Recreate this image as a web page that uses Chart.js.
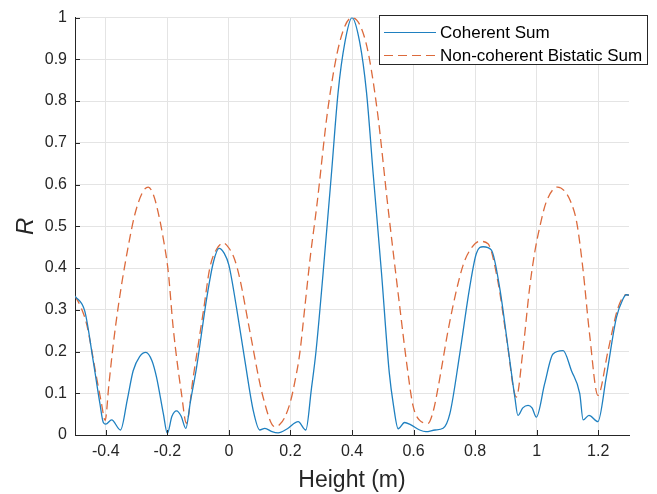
<!DOCTYPE html>
<html>
<head>
<meta charset="utf-8">
<script src="https://cdn.jsdelivr.net/npm/chart.js@4.4.1/dist/chart.umd.min.js"></script>
<style>
  html, body { margin: 0; padding: 0; background: #ffffff; }
  #wrap { width: 657px; height: 494px; position: relative; }
</style>
</head>
<body>
<div id="wrap"><canvas id="c" width="657" height="494"></canvas></div>
<script>
// ---- data ----
const seriesNames = ["Coherent Sum", "Non-coherent Bistatic Sum"];

const heightCoherent = [
  -0.5, -0.468, -0.441, -0.419, -0.408, -0.4, -0.381, -0.352, -0.33, -0.311,
  -0.29, -0.27, -0.25, -0.235, -0.213, -0.2, -0.185, -0.17, -0.155, -0.14,
  -0.125, -0.105, -0.072, -0.05, -0.032, -0.015, 0.0, 0.025, 0.052, 0.079,
  0.1, 0.117, 0.14, 0.16, 0.19, 0.225, 0.25, 0.268, 0.283, 0.306,
  0.333, 0.355, 0.377, 0.4, 0.425, 0.447, 0.469, 0.496, 0.521, 0.535,
  0.55, 0.571, 0.59, 0.62, 0.64, 0.67, 0.696, 0.718, 0.75, 0.782,
  0.804, 0.826, 0.853, 0.88, 0.907, 0.929, 0.939, 0.955, 0.972, 0.985,
  0.999, 1.026, 1.053, 1.086, 1.113, 1.14, 1.151, 1.17, 1.199, 1.226,
  1.259, 1.28, 1.291, 1.3
];
const rCoherent = [
  0.333, 0.296, 0.178, 0.075, 0.030, 0.026, 0.036, 0.012, 0.085, 0.154,
  0.188, 0.198, 0.178, 0.138, 0.051, 0.004, 0.045, 0.058, 0.045, 0.016,
  0.080, 0.162, 0.328, 0.415, 0.447, 0.435, 0.407, 0.304, 0.178, 0.059,
  0.012, 0.016, 0.008, 0.005, 0.015, 0.032, 0.012, 0.110, 0.200, 0.387,
  0.624, 0.822, 0.941, 1.000, 0.941, 0.822, 0.624, 0.387, 0.150, 0.070,
  0.015, 0.030, 0.025, 0.012, 0.008, 0.012, 0.016, 0.051, 0.194, 0.352,
  0.435, 0.451, 0.443, 0.352, 0.209, 0.091, 0.047, 0.065, 0.071, 0.065,
  0.043, 0.123, 0.194, 0.202, 0.154, 0.099, 0.036, 0.047, 0.032, 0.138,
  0.281, 0.325, 0.336, 0.335
];

const heightNoncoherent = [
  -0.5, -0.48, -0.462, -0.43, -0.415, -0.402, -0.39, -0.376, -0.355, -0.33,
  -0.305, -0.28, -0.262, -0.245, -0.23, -0.213, -0.197, -0.181, -0.154, -0.138,
  -0.116, -0.083, -0.062, -0.04, -0.018, 0.0, 0.019, 0.036, 0.068, 0.111,
  0.149, 0.165, 0.18, 0.2, 0.215, 0.23, 0.247, 0.265, 0.285, 0.322,
  0.36, 0.4, 0.445, 0.481, 0.517, 0.555, 0.578, 0.598, 0.62, 0.647,
  0.665, 0.68, 0.718, 0.761, 0.79, 0.815, 0.842, 0.874, 0.902, 0.934,
  0.955, 0.977, 0.994, 1.009, 1.031, 1.068, 1.09, 1.11, 1.13, 1.15,
  1.172, 1.199, 1.232, 1.264, 1.291, 1.3
];
const rNoncoherent = [
  0.333, 0.305, 0.265, 0.138, 0.080, 0.035, 0.120, 0.215, 0.330, 0.440,
  0.530, 0.582, 0.594, 0.575, 0.534, 0.470, 0.391, 0.257, 0.099, 0.028,
  0.138, 0.296, 0.400, 0.445, 0.460, 0.448, 0.420, 0.373, 0.249, 0.091,
  0.020, 0.025, 0.040, 0.080, 0.130, 0.194, 0.308, 0.430, 0.545, 0.783,
  0.941, 1.000, 0.941, 0.783, 0.545, 0.308, 0.170, 0.071, 0.035, 0.028,
  0.060, 0.115, 0.273, 0.407, 0.450, 0.464, 0.458, 0.368, 0.233, 0.091,
  0.200, 0.352, 0.439, 0.495, 0.558, 0.594, 0.585, 0.560, 0.510, 0.400,
  0.241, 0.095, 0.202, 0.304, 0.336, 0.335
];

const xTickLabels = [-0.4, -0.2, 0, 0.2, 0.4, 0.6, 0.8, 1, 1.2];
const yTickLabels = [0, 0.1, 0.2, 0.3, 0.4, 0.5, 0.6, 0.7, 0.8, 0.9, 1];

// ---- styling ----
const seriesColors = ["#1f80c0", "#dc6a3c"];
const seriesDash = [[], [9, 5]];
const axisColor = "#262626";
const gridColor = "#e4e4e4";
const FONT = "'Liberation Sans', Arial, Helvetica, sans-serif";

function toPoints(xs, ys) { return xs.map((x, i) => ({ x: x, y: ys[i] })); }

const inwardTicks = {
  id: 'inwardTicks',
  afterDatasetsDraw(chart) {
    const ctx = chart.ctx;
    const xs = chart.scales.x, ys = chart.scales.y;
    const a = chart.chartArea;
    ctx.save();
    ctx.strokeStyle = axisColor;
    ctx.lineWidth = 1;
    ctx.beginPath();
    xTickLabels.forEach(v => {
      const px = Math.round(xs.getPixelForValue(v)) + 0.5;
      ctx.moveTo(px, a.bottom); ctx.lineTo(px, a.bottom - 5);
    });
    yTickLabels.forEach(v => {
      const py = Math.round(ys.getPixelForValue(v)) + 0.5;
      ctx.moveTo(a.left, py); ctx.lineTo(a.left + 5, py);
    });
    ctx.stroke();
    ctx.restore();
  }
};

const boxLegend = {
  id: 'boxLegend',
  afterDraw(chart) {
    const ctx = chart.ctx;
    const bx = 379.5, by = 15.5, bw = 268, bh = 49;
    ctx.save();
    ctx.fillStyle = '#ffffff';
    ctx.fillRect(bx, by, bw, bh);
    ctx.strokeStyle = axisColor;
    ctx.lineWidth = 1;
    ctx.strokeRect(bx, by, bw, bh);
    ctx.font = "17px " + FONT;
    ctx.textBaseline = 'middle';
    ctx.fillStyle = '#000000';
    const rows = [32, 55];
    chart.data.datasets.forEach((ds, i) => {
      const y = rows[i] + 0.5;
      ctx.beginPath();
      ctx.setLineDash(ds.borderDash || []);
      ctx.strokeStyle = ds.borderColor;
      ctx.lineWidth = 1.2;
      ctx.moveTo(384, y); ctx.lineTo(436, y);
      ctx.stroke();
      ctx.setLineDash([]);
      ctx.fillText(ds.label, 440, rows[i] + 1);
    });
    ctx.restore();
  }
};

new Chart(document.getElementById('c'), {
  type: 'line',
  data: {
    datasets: [
      {
        label: seriesNames[0],
        data: toPoints(heightCoherent, rCoherent),
        borderColor: seriesColors[0],
        borderDash: seriesDash[0],
        borderWidth: 1.3,
        pointRadius: 0,
        cubicInterpolationMode: 'monotone',
        fill: false
      },
      {
        label: seriesNames[1],
        data: toPoints(heightNoncoherent, rNoncoherent),
        borderColor: seriesColors[1],
        borderDash: seriesDash[1],
        borderWidth: 1.3,
        pointRadius: 0,
        cubicInterpolationMode: 'monotone',
        fill: false
      }
    ]
  },
  options: {
    responsive: false,
    animation: false,
    layout: { padding: { left: 0, right: 28, top: 14, bottom: 0 } },
    plugins: { legend: { display: false }, tooltip: { enabled: false } },
    scales: {
      x: {
        type: 'linear',
        min: -0.5, max: 1.3,
        afterBuildTicks: s => { s.ticks = xTickLabels.map(v => ({ value: v })); },
        afterFit: s => { s.height = 59; },
        grid: { color: gridColor, drawTicks: false, lineWidth: 1 },
        border: { color: axisColor, width: 1 },
        ticks: {
          color: axisColor, padding: 7, maxRotation: 0, autoSkip: false,
          font: { family: FONT, size: 16 },
          callback: v => String(v)
        },
        title: {
          display: true, text: 'Height (m)', color: axisColor,
          font: { family: FONT, size: 23 }, padding: { top: 0, bottom: 0 }
        }
      },
      y: {
        type: 'linear',
        min: 0, max: 1,
        afterBuildTicks: s => { s.ticks = yTickLabels.map(v => ({ value: v })); },
        afterFit: s => { s.width = 75; },
        grid: { color: gridColor, drawTicks: false, lineWidth: 1 },
        border: { color: axisColor, width: 1 },
        ticks: {
          color: axisColor, padding: 8, autoSkip: false,
          font: { family: FONT, size: 16 },
          callback: v => String(v)
        },
        title: {
          display: true, text: 'R', color: axisColor,
          font: { family: FONT, size: 24, style: 'italic' }, padding: { top: 12, bottom: 0 }
        }
      }
    }
  },
  plugins: [inwardTicks, boxLegend]
});
</script>
</body>
</html>
